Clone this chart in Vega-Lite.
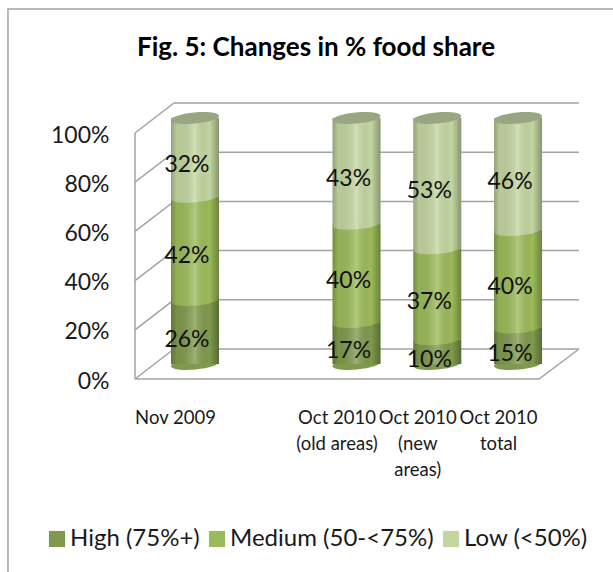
{"$schema":"https://vega.github.io/schema/vega-lite/v6.json","width":444,"height":276,"autosize":"none","padding":{"left":135,"top":103,"right":34,"bottom":193},"background":"white","view":{"stroke":null},"config":{"font":"Lato"},
"title":{"text":"Fig. 5: Changes in % food share","frame":"group","anchor":"middle","dx":-41,"offset":-55,"font":"Lato","fontSize":26,"fontWeight":"bold","color":"#000000"},
"datasets":{"shares":[
{"period":"Nov 2009","pos":1,"series":"High (75%+)","rank":1,"share":26},{"period":"Nov 2009","pos":1,"series":"Medium (50-<75%)","rank":2,"share":42},{"period":"Nov 2009","pos":1,"series":"Low (<50%)","rank":3,"share":32},
{"period":"Oct 2010 (old areas)","pos":3,"series":"High (75%+)","rank":1,"share":17},{"period":"Oct 2010 (old areas)","pos":3,"series":"Medium (50-<75%)","rank":2,"share":40},{"period":"Oct 2010 (old areas)","pos":3,"series":"Low (<50%)","rank":3,"share":43},
{"period":"Oct 2010 (new areas)","pos":4,"series":"High (75%+)","rank":1,"share":10},{"period":"Oct 2010 (new areas)","pos":4,"series":"Medium (50-<75%)","rank":2,"share":37},{"period":"Oct 2010 (new areas)","pos":4,"series":"Low (<50%)","rank":3,"share":53},
{"period":"Oct 2010 total","pos":5,"series":"High (75%+)","rank":1,"share":15},{"period":"Oct 2010 total","pos":5,"series":"Medium (50-<75%)","rank":2,"share":40},{"period":"Oct 2010 total","pos":5,"series":"Low (<50%)","rank":3,"share":46}],
"frame":[
{"seg":"border","xv":-1.316,"yv":-0.785},{"seg":"border","xv":-1.316,"yv":1.504},{"seg":"border","xv":6.176,"yv":1.504},
{"seg":"front","xv":0.257,"yv":0},{"seg":"front","xv":0.257,"yv":1},
{"seg":"floor","xv":0.257,"yv":0},{"seg":"floor","xv":5.26,"yv":0},{"seg":"floor","xv":5.755,"yv":0.122},
{"seg":"d0","xv":0.257,"yv":0},{"seg":"d0","xv":0.74,"yv":0.122},{"seg":"d0","xv":5.755,"yv":0.122},
{"seg":"d20","xv":0.257,"yv":0.2},{"seg":"d20","xv":0.74,"yv":0.322},{"seg":"d20","xv":5.755,"yv":0.322},
{"seg":"d40","xv":0.257,"yv":0.4},{"seg":"d40","xv":0.74,"yv":0.522},{"seg":"d40","xv":5.755,"yv":0.522},
{"seg":"d60","xv":0.257,"yv":0.6},{"seg":"d60","xv":0.74,"yv":0.722},{"seg":"d60","xv":5.755,"yv":0.722},
{"seg":"d80","xv":0.257,"yv":0.8},{"seg":"d80","xv":0.74,"yv":0.922},{"seg":"d80","xv":5.755,"yv":0.922},
{"seg":"d100","xv":0.257,"yv":1},{"seg":"d100","xv":0.74,"yv":1.122},{"seg":"d100","xv":5.755,"yv":1.122}]},
"layer":[
{"data":{"name":"frame"},"mark":{"type":"line","stroke":"#a3a3a3","strokeWidth":1.5,"clip":false},
"encoding":{"detail":{"field":"seg"},
"x":{"field":"xv","type":"quantitative","scale":{"domain":[0.257,5.755],"nice":false,"zero":false,"padding":0},
"axis":{"title":null,"values":[1,3,4,5],"grid":false,"ticks":false,"domain":false,"labelOffset":-20,"labelPadding":38,"labelFontSize":18.5,"labelFont":"Lato","labelColor":"#1a1a1a","labelBaseline":"middle","labelAlign":"center","labelLineHeight":26,"labelOverlap":false,"labelBound":false,"labelFlush":false,"labelExpr":"datum.value==1?'Nov 2009':datum.value==3?['Oct 2010','(old areas)']:datum.value==4?['Oct 2010','(new','areas)']:['Oct 2010','total']"}},
"y":{"field":"yv","type":"quantitative","scale":{"domain":[0,1.122],"nice":false,"zero":false},
"axis":{"title":null,"values":[0,0.2,0.4,0.6,0.8,1],"format":".0%","grid":false,"ticks":false,"domain":false,"labelPadding":26,"labelOffset":2,"labelFontSize":23,"labelFont":"Lato","labelColor":"#1a1a1a","labelBaseline":"middle","labelOverlap":false,"labelBound":false,"labelFlush":false}}}},
{"data":{"name":"shares"},"mark":{"type":"bar","size":48,"orient":"vertical","yOffset":-15,"y2Offset":-15},
"encoding":{"x":{"field":"pos","type":"quantitative","scale":{"domain":[0.257,5.755],"nice":false,"zero":false,"padding":0}},
"y":{"field":"share","type":"quantitative","stack":"normalize","scale":{"domain":[0,1.122],"nice":false,"zero":false}},
"order":{"field":"rank"},
"color":{"field":"series","type":"nominal","scale":{"domain":["High (75%+)","Medium (50-<75%)","Low (<50%)"],"range":["#7f9a4c","#9bbb59","#c3d6a0"]},
"legend":{"orient":"none","direction":"horizontal","legendX":-90,"legendY":424,"title":null,"symbolType":"square","symbolSize":260,"symbolStrokeWidth":0,"labelFontSize":24,"labelFont":"Lato","labelColor":"#1a1a1a","labelLimit":400,"labelOffset":1,"columnPadding":5,"padding":0,"columns":3}}}},
{"data":{"name":"shares"},"mark":{"type":"point","filled":true,"opacity":1,"size":2304,"shape":"M-1,0.09 A1,0.23 -5 1 1 1,-0.09 A1,0.23 -5 1 1 -1,0.09 Z","yOffset":-15},
"encoding":{"x":{"field":"pos","type":"quantitative","scale":{"domain":[0.257,5.755],"nice":false,"zero":false,"padding":0}},
"y":{"field":"share","type":"quantitative","stack":"normalize","bandPosition":0,"scale":{"domain":[0,1.122],"nice":false,"zero":false}},
"order":{"field":"rank"},
"color":{"field":"series","type":"nominal","legend":null}}},
{"data":{"name":"shares"},"mark":{"type":"bar","size":48,"orient":"vertical","yOffset":-15,"y2Offset":-15,
"fill":{"gradient":"linear","x1":0,"x2":1,"y1":0,"y2":0,"stops":[{"offset":0,"color":"rgba(0,0,0,0.24)"},{"offset":0.12,"color":"rgba(0,0,0,0.06)"},{"offset":0.5,"color":"rgba(255,255,255,0.22)"},{"offset":0.8,"color":"rgba(0,0,0,0)"},{"offset":1,"color":"rgba(0,0,0,0.3)"}]}},
"encoding":{"x":{"field":"pos","type":"quantitative","scale":{"domain":[0.257,5.755],"nice":false,"zero":false,"padding":0}},
"y":{"field":"share","type":"quantitative","stack":"normalize","scale":{"domain":[0,1.122],"nice":false,"zero":false}},
"detail":{"field":"series"},"order":{"field":"rank"}}},
{"data":{"name":"shares"},"mark":{"type":"point","filled":true,"opacity":1,"size":2304,"shape":"M-1,0.09 A1,0.23 -5 1 1 1,-0.09 A1,0.23 -5 1 1 -1,0.09 Z","yOffset":-15},
"encoding":{"x":{"field":"pos","type":"quantitative","scale":{"domain":[0.257,5.755],"nice":false,"zero":false,"padding":0}},
"y":{"field":"share","type":"quantitative","stack":"normalize","scale":{"domain":[0,1.122],"nice":false,"zero":false}},
"detail":{"field":"series"},"order":{"field":"rank"},
"fill":{"condition":{"test":"datum.rank==3","value":"#98a683"},"value":"transparent"}}},
{"data":{"name":"shares"},"mark":{"type":"text","fontSize":23,"font":"Lato","color":"#111111","dx":-8,"yOffset":-7},
"encoding":{"x":{"field":"pos","type":"quantitative","scale":{"domain":[0.257,5.755],"nice":false,"zero":false,"padding":0}},
"y":{"field":"share","type":"quantitative","stack":"normalize","bandPosition":0.5,"scale":{"domain":[0,1.122],"nice":false,"zero":false}},
"detail":{"field":"series"},"order":{"field":"rank"},
"text":{"field":"label"}},"transform":[{"calculate":"datum.share+'%'","as":"label"}]}
]}
